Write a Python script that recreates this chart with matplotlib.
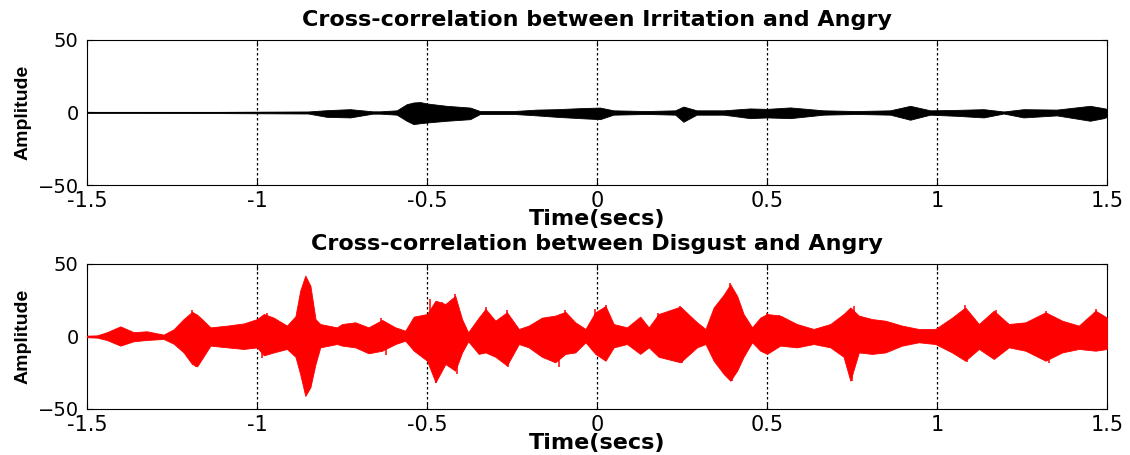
"""Cross-correlation envelopes: Irritation/Disgust vs Angry."""
import matplotlib
matplotlib.use("Agg")
import matplotlib.pyplot as plt

# envelope of the Irritation x Angry cross-correlation
t_top = [-1.5, -1.115, -0.85, -0.795, -0.726, -0.66, -0.638, -0.589, -0.56, -0.54,
         -0.52, -0.5, -0.442, -0.373, -0.344, -0.246, -0.177, -0.118, -0.05, 0.009,
         0.048, 0.146, 0.23, 0.254, 0.293, 0.372, 0.45, 0.5, 0.568, 0.666, 0.764,
         0.862, 0.921, 0.98, 1.058, 1.137, 1.196, 1.254, 1.352, 1.45, 1.49, 1.5]
top_hi = [0.2, 0.4, 0.7, 1.6, 2.3, 0.8, 0.8, 1.5, 5.7, 6.9,
          7.2, 6.2, 4.6, 3.4, 1.0, 1.0, 2.0, 2.3, 3.0, 3.4,
          1.5, 1.0, 1.5, 4.1, 1.5, 1.5, 2.8, 2.5, 3.5, 1.5, 1.0,
          1.5, 4.6, 1.5, 1.8, 2.3, 0.7, 2.3, 2.0, 4.6, 3.0, 2.5]
top_lo = [-0.2, -0.4, -0.7, -3.0, -3.4, -0.8, -0.8, -1.5, -5.7, -8.0,
          -7.4, -6.9, -5.7, -4.6, -1.0, -1.0, -2.0, -3.0, -3.9, -4.6,
          -1.5, -1.0, -1.5, -6.4, -1.5, -1.5, -3.9, -3.4, -3.9, -1.5, -1.0,
          -1.5, -5.0, -1.5, -2.3, -3.4, -0.7, -3.4, -2.0, -5.7, -3.9, -3.0]

# envelope of the Disgust x Angry cross-correlation
t_bot = [-1.5, -1.47, -1.441, -1.402, -1.363, -1.324, -1.275, -1.245, -1.216, -1.191,
         -1.176, -1.162, -1.137, -1.088, -1.039, -1.0, -0.98, -0.951, -0.912, -0.887,
         -0.873, -0.858, -0.843, -0.828, -0.814, -0.765, -0.75, -0.711, -0.672, -0.632,
         -0.593, -0.564, -0.539, -0.5, -0.475, -0.446, -0.417, -0.397, -0.379, -0.348,
         -0.328, -0.299, -0.265, -0.23, -0.201, -0.162, -0.123, -0.093, -0.064, -0.034,
         -0.005, 0.025, 0.049, 0.088, 0.127, 0.152, 0.181, 0.245, 0.294, 0.319,
         0.343, 0.373, 0.392, 0.412, 0.431, 0.456, 0.48, 0.5, 0.539, 0.588,
         0.637, 0.686, 0.725, 0.745, 0.77, 0.809, 0.848, 0.897, 0.946, 0.995,
         1.044, 1.083, 1.123, 1.167, 1.211, 1.26, 1.319, 1.368, 1.417, 1.466, 1.5]
bot_hi = [0.5, 0.8, 3.0, 7.0, 3.0, 3.6, 1.3, 5.0, 12.0, 17.0,
          15.0, 12.0, 6.3, 7.5, 9.0, 12.0, 15.5, 13.0, 7.5, 14.0,
          31.6, 42.0, 35.0, 12.0, 8.6, 6.3, 8.6, 9.8, 6.3, 11.4,
          6.3, 4.0, 13.7, 15.5, 24.7, 22.4, 28.0, 12.0, 2.9, 13.0,
          19.0, 10.9, 16.7, 5.2, 7.5, 13.0, 14.4, 17.0, 9.8, 5.2,
          16.7, 21.0, 8.6, 6.3, 13.7, 6.3, 15.5, 20.6, 9.8, 5.2,
          20.0, 29.0, 36.0, 28.0, 15.5, 6.3, 13.0, 15.5, 14.4, 8.6,
          5.2, 8.6, 15.5, 20.0, 14.4, 12.0, 10.9, 7.5, 5.2, 5.2,
          13.0, 20.0, 8.6, 17.8, 8.6, 9.8, 16.7, 10.9, 7.5, 17.8, 13.0]
bot_lo = [-0.5, -0.8, -2.5, -6.3, -3.3, -2.4, -1.7, -5.0, -11.0, -19.0,
          -20.6, -15.5, -6.3, -7.5, -8.6, -7.5, -13.0, -11.0, -8.6, -14.0,
          -26.0, -41.0, -35.0, -19.0, -7.5, -5.2, -6.3, -7.5, -11.6, -9.8,
          -5.2, -2.9, -9.8, -16.7, -31.6, -19.0, -23.6, -11.0, -3.3, -12.0,
          -11.0, -14.0, -20.0, -5.2, -7.5, -14.0, -17.8, -12.0, -11.0, -4.0,
          -12.0, -16.7, -7.5, -5.2, -12.0, -7.5, -14.0, -17.8, -7.5, -5.2,
          -16.7, -26.0, -30.5, -23.6, -14.0, -4.0, -9.8, -12.0, -6.3, -7.5,
          -5.2, -7.5, -14.0, -30.5, -11.0, -12.0, -11.0, -6.3, -4.0, -5.2,
          -11.0, -16.7, -8.6, -15.5, -7.5, -9.8, -16.7, -11.0, -8.6, -9.8, -8.6]

# isolated spikes that stick out of the envelope
spk_t_bot = [-1.19, -1.18, -0.985, -0.97, -0.634, -0.622, -0.49, -0.475,
             -0.456, -0.417, -0.412, -0.328, -0.265, -0.262, -0.113, -0.095, -0.005, 0.025,
             0.178, 0.245, 0.25, 0.392, 0.397, 0.5, 0.534, 0.75, 0.755,
             1.081, 1.088, 1.172, 1.319, 1.328, 1.466]
spk_v_bot = [18.0, -21.0, -15.0, 16.5, 13.0, -13.0, 26.0, -32.0,
             24.0, 29.0, -26.0, 20.0, 18.0, -21.0, -21.0, 18.0, 19.0, 22.0,
             16.5, 21.0, -18.5, 37.0, -31.0, 16.5, 15.0, -31.0, 21.0,
             21.5, -17.5, 18.5, 17.5, -18.0, 19.0]

x_ticks = [-1.5, -1, -0.5, 0, 0.5, 1, 1.5]
x_tick_labels = ["-1.5", "-1", "-0.5", "0", "0.5", "1", "1.5"]
y_ticks = [-50, 0, 50]

titles = ["Cross-correlation between Irritation and Angry",
          "Cross-correlation between Disgust and Angry"]

plt.rcParams["font.family"] = ["DejaVu Sans"]

fig = plt.figure(figsize=(11.3, 4.55), dpi=100)
ax_top = fig.add_axes([0.077, 0.5934, 0.9027, 0.3187])
ax_bot = fig.add_axes([0.077, 0.1011, 0.9027, 0.3187])

series = [(ax_top, t_top, top_hi, top_lo, "black", [], []),
          (ax_bot, t_bot, bot_hi, bot_lo, "#ff0000", spk_t_bot, spk_v_bot)]

for (ax, t, hi, lo, col, st, sv), title in zip(series, titles):
    ax.fill_between(t, lo, hi, color=col, lw=0.6, zorder=3)
    ax.plot(t, [0] * len(t), color=col, lw=0.8, zorder=3)
    if st:
        ax.vlines(st, [0] * len(st), sv, color=col, lw=1.1, zorder=3)
    ax.set_xlim(-1.5, 1.5)
    ax.set_ylim(-50, 50)
    ax.set_xticks(x_ticks)
    ax.set_xticklabels(x_tick_labels)
    ax.set_yticks(y_ticks)
    for xv in x_ticks[1:-1]:
        ax.axvline(xv, color="black", lw=0.9, ls=(0, (2, 2)), zorder=1)
    ax.tick_params(direction="in", top=True, right=True, length=4)
    ax.tick_params(axis="x", pad=4, labelsize=15)
    ax.tick_params(axis="y", pad=6, labelsize=14)
    ax.set_title(title, fontsize=16, fontweight="bold", pad=10)
    ax.set_xlabel("Time(secs)", fontsize=16, fontweight="bold", labelpad=-1)
    ax.set_ylabel("Amplitude", fontsize=14, fontweight="bold", labelpad=4,
                  family="Liberation Sans")
    for sp in ax.spines.values():
        sp.set_linewidth(0.8)

fig.savefig("out.png")
